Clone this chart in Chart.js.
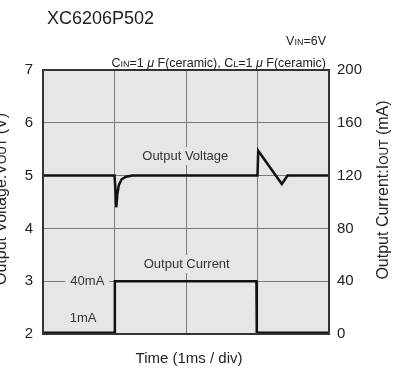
<!DOCTYPE html>
<html>
<head>
<meta charset="utf-8">
<script src="https://cdn.jsdelivr.net/npm/chart.js@4/dist/chart.umd.min.js"></script>
<style>
  body { margin: 0; background: #fff; }
  #wrap { width: 404px; height: 368px; }
</style>
</head>
<body>
<div id="wrap"><canvas id="c"></canvas></div>
<script>
// time in ms (1 ms / div)
const voltTime  = [0, 1.0, 1.015, 1.025, 1.04, 1.06, 1.1, 1.16, 1.25, 3.0, 3.01, 3.34, 3.42, 4];
const voltValue = [5, 5, 4.7, 4.4, 4.65, 4.82, 4.93, 4.98, 5, 5, 5.47, 4.84, 5, 5];
const currTime  = [0, 1.0, 1.005, 2.985, 2.99, 4];
const currValue = [1, 1, 40, 40, 1, 1];
const voltTicks = [2, 3, 4, 5, 6, 7];
const currTicks = [0, 40, 80, 120, 160, 200];

const FONT = "'Liberation Sans', Arial, sans-serif";
const PLOT_BG = "#e6e6e6";

// text written inside the plot: [text, time, value, axis]
const notes = [
  ["Output Voltage", 1.99, 5.37, "y"],
  ["Output Current", 2.01, 53, "y1"],
  ["40mA", 0.62, 40, "y1"],
  ["1mA", 0.56, 11.5, "y1"]
];

function toXY(arr, vals) {
  return arr.map((t, i) => ({ x: t, y: vals[i] }));
}

// draws text made of [string, size, style] parts, aligned as asked
function drawParts(ctx, parts, x, y, align) {
  const fontOf = (p) => (p[2] || "") + " " + p[1] + "px " + FONT;
  let w = 0;
  parts.forEach((p) => {
    ctx.font = fontOf(p);
    w += ctx.measureText(p[0]).width;
  });
  let cx = align === "right" ? x - w : align === "center" ? x - w / 2 : x;
  ctx.textAlign = "left";
  ctx.textBaseline = "alphabetic";
  parts.forEach((p) => {
    ctx.font = fontOf(p);
    ctx.fillText(p[0], cx, y);
    cx += ctx.measureText(p[0]).width;
  });
}

const bgPlugin = {
  id: "bg",
  beforeDraw(chart) {
    const { ctx, chartArea: a } = chart;
    ctx.save();
    ctx.fillStyle = "#fff";
    ctx.fillRect(0, 0, chart.width, chart.height);
    ctx.fillStyle = PLOT_BG;
    ctx.fillRect(a.left, a.top, a.right - a.left, a.bottom - a.top);
    ctx.restore();
  },
  beforeDatasetsDraw(chart) {
    const { ctx, scales } = chart;
    ctx.save();
    ctx.font = "13px " + FONT;
    ctx.textAlign = "center";
    ctx.textBaseline = "middle";
    notes.forEach((n) => {
      const x = scales.x.getPixelForValue(n[1]);
      const y = scales[n[3]].getPixelForValue(n[2]);
      const w = ctx.measureText(n[0]).width;
      ctx.fillStyle = PLOT_BG;
      ctx.fillRect(x - w / 2 - 5, y - 9, w + 10, 18);
      ctx.fillStyle = "#333";
      ctx.fillText(n[0], x, y);
    });
    ctx.restore();
  },
  afterDraw(chart) {
    const { ctx, chartArea: a } = chart;
    ctx.save();
    ctx.strokeStyle = "#333";
    ctx.lineWidth = 2;
    ctx.strokeRect(a.left, a.top, a.right - a.left, a.bottom - a.top);

    ctx.fillStyle = "#222";
    drawParts(ctx, [["XC6206P502", 18]], 47, 24, "left");
    drawParts(ctx, [["V", 12.5], ["IN", 9], ["=6V", 12.5]], 326, 45, "right");
    drawParts(ctx, [
      ["C", 12.5], ["IN", 9], ["=1 ", 12.5], ["\u03bc", 12.5, "italic"], [" F(ceramic), C", 12.5],
      ["L", 9], ["=1 ", 12.5], ["\u03bc", 12.5, "italic"], [" F(ceramic)", 12.5]
    ], 326, 67, "right");
    drawParts(ctx, [["Time (1ms / div)", 15]], 189, 363, "center");

    ctx.save();
    ctx.translate(6, 199);
    ctx.rotate(-Math.PI / 2);
    drawParts(ctx, [["Output Voltage:V", 16], ["OUT", 12], [" (V)", 16]], 0, 0, "center");
    ctx.restore();

    ctx.save();
    ctx.translate(388, 190);
    ctx.rotate(-Math.PI / 2);
    drawParts(ctx, [["Output Current:I", 16], ["OUT", 12], [" (mA)", 16]], 0, 0, "center");
    ctx.restore();
    ctx.restore();
  }
};

const config = {
  type: "line",
  data: {
    datasets: [
      {
        label: "Output Voltage",
        data: toXY(voltTime, voltValue),
        yAxisID: "y",
        borderColor: "#111",
        borderWidth: 2.5,
        pointRadius: 0,
        tension: 0
      },
      {
        label: "Output Current",
        data: toXY(currTime, currValue),
        yAxisID: "y1",
        borderColor: "#111",
        borderWidth: 2.5,
        pointRadius: 0,
        tension: 0
      }
    ]
  },
  options: {
    responsive: true,
    maintainAspectRatio: false,
    animation: false,
    layout: { padding: { top: 70 } },
    plugins: {
      legend: { display: false },
      title: { display: false },
      tooltip: { enabled: false }
    },
    scales: {
      x: {
        type: "linear",
        min: 0,
        max: 4,
        ticks: { display: false, stepSize: 1 },
        grid: { color: "#7a7a7a", lineWidth: 1, drawTicks: false },
        border: { display: false },
        afterFit: (s) => { s.height = 34; }
      },
      y: {
        position: "left",
        min: 2,
        max: 7,
        afterBuildTicks: (s) => { s.ticks = voltTicks.map((v) => ({ value: v })); },
        ticks: { color: "#222", padding: 10, font: { size: 15, family: FONT } },
        grid: { color: "#7a7a7a", lineWidth: 1, drawTicks: false },
        border: { display: false },
        afterFit: (s) => { s.width = 43; }
      },
      y1: {
        position: "right",
        min: 0,
        max: 200,
        afterBuildTicks: (s) => { s.ticks = currTicks.map((v) => ({ value: v })); },
        ticks: { color: "#222", padding: 8, font: { size: 15, family: FONT } },
        grid: { display: false, drawTicks: false },
        border: { display: false },
        afterFit: (s) => { s.width = 75; }
      }
    }
  },
  plugins: [bgPlugin]
};

new Chart(document.getElementById("c"), config);
</script>
</body>
</html>
